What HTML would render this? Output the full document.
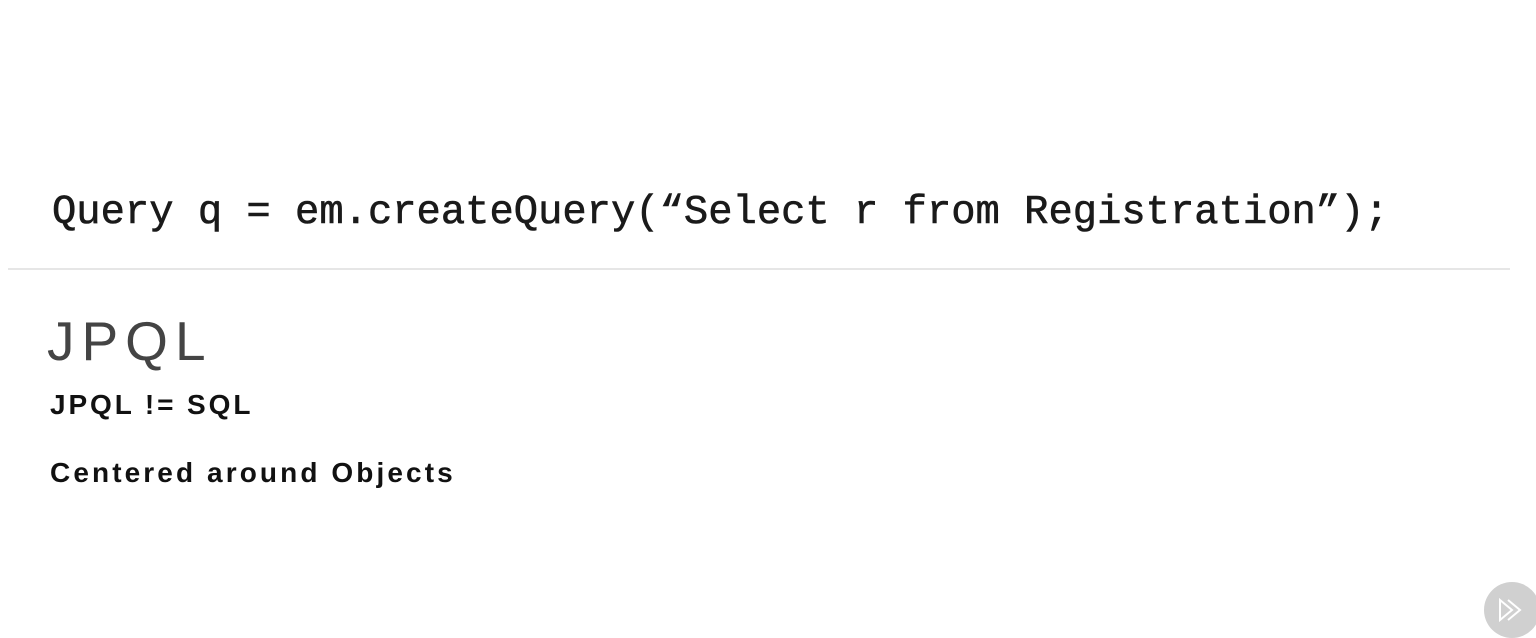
<!DOCTYPE html>
<html><head><style>
body{margin:0;width:1536px;height:621px;background:#fff;position:relative;overflow:hidden;font-family:"Liberation Sans",sans-serif}
.t{position:absolute;white-space:nowrap;line-height:1}
</style></head><body>
<div class="t" style="left:52px;top:193px;font-family:'Liberation Mono',monospace;font-size:40.5px;color:#1a1a1a;-webkit-text-stroke:0.6px #1a1a1a;">Query q = em.createQuery(“Select r from Registration”);</div>
<div style="position:absolute;left:8px;top:268px;width:1502px;height:2px;background:#e6e6e6"></div>
<div class="t" style="left:47px;top:314px;font-size:55px;color:#444;letter-spacing:7px;font-weight:normal;">JPQL</div>
<div class="t" style="left:50px;top:391px;font-size:28px;font-weight:bold;color:#111;letter-spacing:2.9px">JPQL != SQL</div>
<div class="t" style="left:50px;top:459px;font-size:28px;font-weight:bold;color:#111;letter-spacing:3.1px">Centered around Objects</div>
<svg style="position:absolute;left:1480px;top:578px" width="60" height="60">
<circle cx="32" cy="32" r="28" fill="#d0d0d0"/>
<path d="M20 22 L32 32 L20 42 Z M28 22 L40 32 L28 42" fill="none" stroke="#fff" stroke-width="2"/>
</svg>
</body></html>
